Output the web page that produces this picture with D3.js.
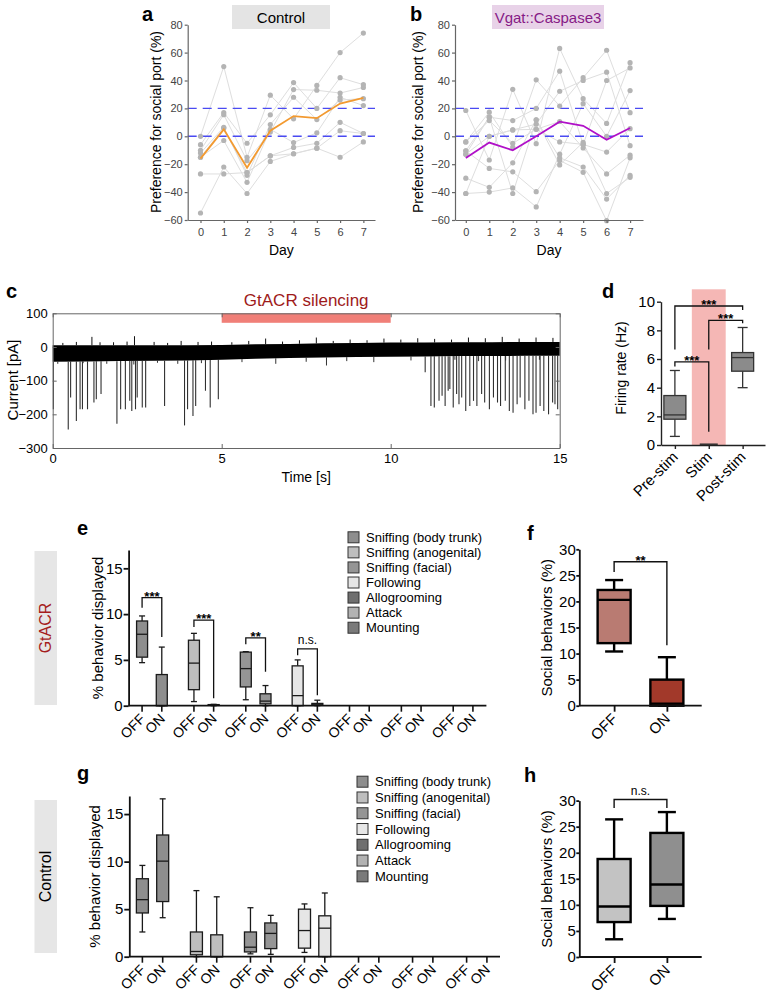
<!DOCTYPE html>
<html><head><meta charset="utf-8">
<script src="https://cdn.jsdelivr.net/npm/d3@7/dist/d3.min.js"></script>
<style>html,body{margin:0;padding:0;background:#fff;}</style>
</head><body>
<script>
// ================= DATA =================
// panels a/b : preference for social port
const days = [0,1,2,3,4,5,6,7];
const prefTicks = [-60,-40,-20,0,20,40,60,80];
const prefThresholds = [0,20];
const controlAnimals = [
  [0, 50, -15, 29.5, 12.5, 36.5, 60, 74],
  [-6, 17, -5, 15.4, 38.5, 20, 42, 37],
  [-10, 15.5, -17.5, 3, 33.5, 33, 31, 35],
  [-12, 6.5, -28, 8.4, 28, 12, 26, 27],
  [-15, -3, -33, 5, -4.5, 2.5, 28, 22],
  [-27, -27, -26, -14, -8, -5, 10, 2],
  [-55, -22, -41, -18, -12.5, -8.5, -15, -4],
  [-15, 5.8, -26, -14, -12.5, -8.5, 4, 2]
];
const controlMean = [-16, 5, -22.5, 4, 14.5, 13, 23.5, 27.5];
const caspAnimals = [
  [18.5, -17, 33.7, -5.3, 63, 27, 9.2, 52.8],
  [-4, 17.3, -7.7, 40.5, 21.7, 42, 61.7, 16.9],
  [-10.4, 13.7, 11.3, 20, 46.7, -5.8, 40, 49],
  [-12.8, 0, 4.6, 8.7, 32.3, 40, 46, -6.7],
  [-30, -36.6, -19, 11.8, -15.4, -22, -45, -28],
  [-41, -40, -37, -50.6, -12.8, 23.4, 0, 32.8],
  [-4, 11.3, -5, 5, 10.6, -8.4, -27, -13.5],
  [-10.4, -23, -25.5, -39.7, -17.3, -25.8, -60.5, -15.4],
  [-12.8, 13.7, -41, 11.8, -20.5, -4.3, -41, -29.4],
  [-41, 0, 4.6, 5, -4, -5.8, -11.3, 5.5]
];
const caspMean = [-15.5, -4.5, -10, 0, 10.5, 7.5, -2.5, 6];

// panel c : current trace
const traceXTicks = [0,5,10,15];
const traceYTicks = [100,0,-100,-200,-300];
const silencingWindow = [5,10];
const envT   = [0,1,2,3,4,5,6,7,8,9,10,11,12,13,14,15];
const envTop = [5,5,5,5,5,6,8,9,11,12,13,13,14,14,15,15];
const envBot = [-44,-43,-42,-41,-40,-38,-35,-33,-31,-30,-29,-28,-27,-27,-26,-26];
const spikeT = [0.02,0.46,0.53,0.70,0.81,0.88,1.03,1.22,1.29,1.43,1.90,2.01,2.15,2.28,2.34,2.45,2.50,2.65,2.75,3.31,3.90,3.99,4.15,4.23,4.52,4.66,4.90,
  11.02,11.19,11.29,11.43,11.52,11.61,11.70,11.75,11.85,11.95,12.02,12.10,12.22,12.34,12.45,12.55,12.69,12.78,12.92,13.04,13.16,13.25,13.39,13.51,13.62,13.74,13.83,13.97,14.09,14.21,14.30,14.42,14.53,14.67,14.79,14.86,14.94];
const spikeAmp = [-185,-245,-150,-220,-185,-185,-185,-165,-155,-140,-228,-185,-185,-160,-190,-185,-150,-180,-180,-175,-233,-185,-205,-175,-130,-180,-155,
  -75,-175,-180,-160,-145,-175,-130,-125,-180,-140,-170,-150,-190,-175,-160,-175,-140,-165,-185,-150,-165,-175,-160,-190,-195,-170,-150,-185,-160,-200,-195,-175,-190,-200,-165,-170,-185];
const noiseUpT   = [0.3,0.7,1.16,1.4,1.8,2.2,2.42,3.0,3.4,3.8,4.3,4.7,5.3,5.8,6.3,6.8,7.3,7.8,8.3,8.8,9.3,9.8,10.3,10.8,11.3,11.8,12.3,12.8,13.3,13.8,14.3,14.8];
const noiseUpAmp = [12,15,30,14,14,16,32,15,12,18,15,16,14,18,25,16,20,28,18,22,20,25,22,26,24,22,28,26,30,25,28,27];
const noiseDnT   = [0.15,0.9,1.6,2.4,3.1,3.7,4.4,5.6,6.6,7.5,8.1,8.7,9.5,10.6,11.9,12.6,13.4,14.4];
const noiseDnAmp = [-50,-48,-50,-52,-47,-50,-48,-45,-50,-44,-55,-42,-45,-40,-38,-42,-40,-38];

// panel d : firing rate
const fireCats = ["Pre-stim","Stim","Post-stim"];
const fireTicks = [0,2,4,6,8,10];
const fireLow  = [0.6, 0, 4.0];
const fireQ1   = [1.8, 0, 5.15];
const fireMed  = [2.1, 0, 6.1];
const fireQ3   = [3.45, 0, 6.45];
const fireHigh = [5.2, 0, 8.2];
const fireSigLabel = ["***","***","***"];
const fireSigFrom  = [0,1,0];
const fireSigTo    = [2,2,1];
const fireSigFromY = [6.67,6.67,5.47];
const fireSigTop   = [9.7,8.7,5.8];
const fireSigToY   = [9.42,8.49,0.93];

// panels e/g : behaviours
const behaviors = ["Sniffing (body trunk)","Sniffing (anogenital)","Sniffing (facial)","Following","Allogrooming","Attack","Mounting"];
const behaviorColors = ["#8e8e8e","#bebebe","#959595","#e6e6e6","#6f6f6f","#b2b2b2","#7a7a7a"];
const conds = ["OFF","ON"];
const behTicks = [0,5,10,15];
// order: OFF,ON for each behaviour
const eLow  = [4.7,0,   0.45,0,    0.65,0,    0,0,     0,0,0,0,0,0];
const eQ1   = [5.3,0,   1.75,0.08, 2.05,0.2,  0,0.05,  0,0,0,0,0,0];
const eMed  = [7.8,0,   4.65,0.1,  4.05,0.5,  1.1,0.1, 0,0,0,0,0,0];
const eQ3   = [9.25,3.4,7.15,0.12, 5.85,1.3,  4.35,0.25,0,0,0,0,0,0];
const eHigh = [9.8,6.4, 7.9,0.15,  5.9,2.2,   5.0,0.6, 0,0,0,0,0,0];
const eSigBeh   = [0,1,2,3];
const eSigLabel = ["***","***","**","n.s."];
const eSigOffY  = [10.7,8.6,6.7,5.5];
const eSigTop   = [11.8,9.35,7.4,6.2];
const eSigOnY   = [7.5,0.8,3.7,1.15];

const gLow  = [2.6,4.1,   0,0,     0.3,0.25,  0.45,0,   0,0,0,0,0,0];
const gQ1   = [4.6,5.8,   0.2,0,   0.5,0.85,  0.9,0,    0,0,0,0,0,0];
const gMed  = [6.0,10.05, 0.55,0,  1.0,2.45,  2.75,3.0, 0,0,0,0,0,0];
const gQ3   = [8.2,12.8,  2.6,2.3, 2.6,3.55,  5.0,4.3,  0,0,0,0,0,0];
const gHigh = [9.6,16.6,  6.95,6.3,5.15,4.35, 5.55,6.7, 0,0,0,0,0,0];

// panels f/h : social behaviours
const socTicks = [0,5,10,15,20,25,30];
const fLow  = [10.4, 0];
const fQ1   = [12.0, 0];
const fMed  = [20.3, 0.4];
const fQ3   = [22.2, 5.0];
const fHigh = [24.1, 9.3];
const fColors = ["#b97b72","#a2392a"];
const fSig = ["**", 25.66, 27.6, 11.6];
const hLow  = [3.4, 7.3];
const hQ1   = [6.7, 9.8];
const hMed  = [9.7, 13.9];
const hQ3   = [18.8, 23.8];
const hHigh = [26.4, 27.8];
const hColors = ["#c3c3c3","#8f8f8f"];
const hSig = ["n.s.", 28.6, 30.2, 28.6];

// ================= DRAWING =================
const FONT = '"Liberation Sans", Arial, Helvetica, sans-serif';
const svg = d3.select("body").append("svg").attr("width",770).attr("height",1002)
  .attr("font-family",FONT).style("display","block");
svg.append("rect").attr("width",770).attr("height",1002).attr("fill","#fff");

function styleAxis(a, color, width, size, tcolor){
  a.attr("font-family",FONT).attr("font-size",size);
  a.select(".domain").attr("stroke",color).attr("stroke-width",width);
  a.selectAll(".tick line").attr("stroke",color).attr("stroke-width",width);
  a.selectAll(".tick text").attr("fill",tcolor);
}
function letter(t,x,y){ svg.append("text").attr("x",x).attr("y",y).attr("font-size",20).attr("font-weight","bold").text(t); }
function vlabel(g,text,x,y,size,color){
  g.append("text").attr("transform",`translate(${x},${y}) rotate(-90)`).attr("text-anchor","middle")
   .attr("font-size",size).attr("fill",color||"#000").text(text);
}
function rotLabel(g,text,x,y,size){
  g.append("text").attr("transform",`translate(${x},${y}) rotate(-45)`).attr("text-anchor","end")
   .attr("font-size",size).text(text);
}
function drawBox(g,cx,w,capW,y,lo,q1,md,q3,hi,fill,stroke,sw){
  if (hi<=0 && q3<=0) return;
  const L=(x1,y1,x2,y2)=>g.append("line").attr("x1",x1).attr("y1",y1).attr("x2",x2).attr("y2",y2).attr("stroke",stroke).attr("stroke-width",sw);
  L(cx,y(hi),cx,y(q3)); L(cx,y(q1),cx,y(lo));
  L(cx-capW/2,y(hi),cx+capW/2,y(hi)); L(cx-capW/2,y(lo),cx+capW/2,y(lo));
  g.append("rect").attr("x",cx-w/2).attr("y",y(q3)).attr("width",w).attr("height",Math.max(0.01,y(q1)-y(q3)))
   .attr("fill",fill).attr("stroke",stroke).attr("stroke-width",sw);
  L(cx-w/2,y(md),cx+w/2,y(md));
}
function bracket(g,x1,x2,y1,yt,y2,label,sw){
  g.append("path").attr("d",`M${x1},${y1}V${yt}H${x2}V${y2}`).attr("fill","none").attr("stroke","#111").attr("stroke-width",sw||1.3);
  const star = label.indexOf("*")>=0;
  g.append("text").attr("x",(x1+x2)/2).attr("y",star? yt+3 : yt-5).attr("text-anchor","middle")
   .attr("font-size",star?13:12).attr("font-weight",star?"bold":"normal").text(label);
}

// ---------- a / b ----------
function prefPanel(o){
  const g = svg.append("g");
  const y = d3.scaleLinear().domain([-60,80]).range([220,24.7]);
  const x = d3.scaleLinear().domain(o.xDomain).range(o.xRange);
  g.append("rect").attr("x",o.box[0]).attr("y",5).attr("width",o.box[1]-o.box[0]).attr("height",24).attr("fill",o.boxFill);
  g.append("text").attr("x",(o.box[0]+o.box[1])/2).attr("y",22.5).attr("text-anchor","middle").attr("font-size",15).attr("fill",o.titleColor).text(o.title);
  const line = d3.line().x((d,i)=>x(days[i])).y(d=>y(d));
  o.animals.forEach(a=>g.append("path").attr("d",line(a)).attr("fill","none").attr("stroke","#dedede").attr("stroke-width",1));
  prefThresholds.forEach(v=>g.append("line").attr("x1",o.xRange[0]).attr("x2",o.xRange[1]).attr("y1",y(v)).attr("y2",y(v))
     .attr("stroke","#4a4af2").attr("stroke-width",1.4).attr("stroke-dasharray","9,6"));
  o.animals.forEach(a=>a.forEach((v,i)=>g.append("circle").attr("cx",x(days[i])).attr("cy",y(v)).attr("r",2.6).attr("fill","#b4b4b4")));
  g.append("path").attr("d",line(o.mean)).attr("fill","none").attr("stroke",o.meanColor).attr("stroke-width",1.8);
  const ya = g.append("g").attr("transform",`translate(${o.xRange[0]},0)`)
    .call(d3.axisLeft(y).tickValues(prefTicks).tickSize(3).tickSizeOuter(0).tickPadding(2));
  styleAxis(ya,"#666",1.2,11,"#444");
  const xa = g.append("g").attr("transform",`translate(0,220)`)
    .call(d3.axisBottom(x).tickValues(days).tickSize(3).tickSizeOuter(0).tickPadding(5));
  styleAxis(xa,"#666",1.2,11,"#444");
  vlabel(g,"Preference for social port (%)",o.ylabX,122,14);
  g.append("text").attr("x",(o.xRange[0]+o.xRange[1])/2).attr("y",255).attr("text-anchor","middle").attr("font-size",14).text("Day");
}
prefPanel({xDomain:[-0.55,7.5],xRange:[187.7,375],box:[232,330],boxFill:"#e4e4e4",title:"Control",titleColor:"#000",
  animals:controlAnimals,mean:controlMean,meanColor:"#f39a30",ylabX:161});
prefPanel({xDomain:[-0.46,7.55],xRange:[455,643],box:[492,604],boxFill:"#e8d2e8",title:"Vgat::Caspase3",titleColor:"#861a86",
  animals:caspAnimals,mean:caspMean,meanColor:"#b010c8",ylabX:423});
letter("a",142,21); letter("b",410,21);

// ---------- c ----------
{
  const g = svg.append("g");
  const x = d3.scaleLinear().domain([0,15]).range([52.7,559.7]);
  const y = d3.scaleLinear().domain([-300,100]).range([448,313.3]);
  const botAt = d3.scaleLinear().domain(envT).range(envBot);
  const topAt = d3.scaleLinear().domain(envT).range(envTop);
  g.append("rect").attr("x",x(silencingWindow[0])).attr("y",y(100)).attr("width",x(silencingWindow[1])-x(silencingWindow[0]))
    .attr("height",9.5).attr("fill","#f07f78");
  noiseDnT.forEach((t,i)=>g.append("line").attr("x1",x(t)).attr("x2",x(t)).attr("y1",y(botAt(t))).attr("y2",y(noiseDnAmp[i])).attr("stroke","#333").attr("stroke-width",1));
  spikeT.forEach((t,i)=>g.append("line").attr("x1",x(t)).attr("x2",x(t)).attr("y1",y(botAt(t))).attr("y2",y(spikeAmp[i])).attr("stroke","#303030").attr("stroke-width",1.1));
  noiseUpT.forEach((t,i)=>g.append("line").attr("x1",x(t)).attr("x2",x(t)).attr("y1",y(topAt(t))).attr("y2",y(noiseUpAmp[i])).attr("stroke","#111").attr("stroke-width",1));
  const area = d3.area().x(d=>x(d)).y0((d,i)=>y(envBot[i])).y1((d,i)=>y(envTop[i]));
  g.append("path").datum(envT).attr("d",area).attr("fill","#000");
  const al = g.append("g").attr("transform",`translate(${x(0)},0)`).call(d3.axisLeft(y).tickValues(traceYTicks).tickSize(-4).tickSizeOuter(0).tickPadding(5));
  styleAxis(al,"#666",1,13,"#000");
  const ar = g.append("g").attr("transform",`translate(${x(15)},0)`).call(d3.axisRight(y).tickValues(traceYTicks).tickSize(-4).tickSizeOuter(0).tickFormat(""));
  styleAxis(ar,"#666",1,13,"#000");
  const ab = g.append("g").attr("transform",`translate(0,${y(-300)})`).call(d3.axisBottom(x).tickValues(traceXTicks).tickSize(-4).tickSizeOuter(0).tickPadding(6));
  styleAxis(ab,"#666",1,13,"#000");
  const at = g.append("g").attr("transform",`translate(0,${y(100)})`).call(d3.axisTop(x).tickValues(traceXTicks).tickSize(-4).tickSizeOuter(0).tickFormat(""));
  styleAxis(at,"#666",1,13,"#000");
  g.append("text").attr("x",(x(5)+x(10))/2).attr("y",306).attr("text-anchor","middle").attr("font-size",17).attr("fill","#9e1a1a").text("GtACR silencing");
  g.append("text").attr("x",x(7.5)).attr("y",482).attr("text-anchor","middle").attr("font-size",14).text("Time [s]");
  vlabel(g,"Current [pA]",17.5,380,15);
}
letter("c",6,298);

// ---------- d ----------
{
  const g = svg.append("g");
  const x = d3.scaleLinear().domain([-0.41,2.66]).range([661,765]);
  const y = d3.scaleLinear().domain([0,10]).range([445,301.7]);
  g.append("rect").attr("x",x(0.5)).attr("y",289.3).attr("width",x(1.5)-x(0.5)).attr("height",y(0)-289.3).attr("fill","#f5b7b5");
  fireCats.forEach((c,i)=>{
    if (fireHigh[i]===0 && fireQ3[i]===0){
      g.append("line").attr("x1",x(i)-9).attr("x2",x(i)+9).attr("y1",y(0)-0.8).attr("y2",y(0)-0.8).attr("stroke","#333").attr("stroke-width",1.5);
    } else drawBox(g,x(i),22,10,y,fireLow[i],fireQ1[i],fireMed[i],fireQ3[i],fireHigh[i],"#8b8b8b","#333",1.3);
  });
  fireSigLabel.forEach((l,k)=>bracket(g,x(fireSigFrom[k]),x(fireSigTo[k]),y(fireSigFromY[k]),y(fireSigTop[k]),y(fireSigToY[k]),l,1.3));
  const ya = g.append("g").attr("transform",`translate(661,0)`).call(d3.axisLeft(y).tickValues(fireTicks).tickSize(4).tickSizeOuter(0).tickPadding(2));
  styleAxis(ya,"#222",1.4,15,"#000");
  const xa = g.append("g").attr("transform",`translate(0,${y(0)})`).call(d3.axisBottom(x).tickValues([0,1,2]).tickSize(4).tickSizeOuter(0).tickFormat(""));
  styleAxis(xa,"#222",1.4,14,"#000");
  fireCats.forEach((c,i)=>rotLabel(g,c,x(i)+4,y(0)+13,15));
  vlabel(g,"Firing rate (Hz)",626,368,14);
}
letter("d",602,298);

// ---------- e / g ----------
function behPanel(o){
  const g = svg.append("g");
  const y = d3.scaleLinear().domain([0,o.top]).range([o.y0,o.yTop]);
  const xb = d3.scalePoint().domain(behaviors).range([o.ax,o.axEnd]).padding(o.pad);
  const xc = d3.scalePoint().domain(conds).range([-o.half,o.half]);
  const pos = (bi,ci)=>xb(behaviors[bi])+xc(conds[ci]);
  g.append("rect").attr("x",34.5).attr("y",o.side[0]).attr("width",22.5).attr("height",o.side[1]-o.side[0]).attr("fill","#e6e6e6");
  vlabel(g,o.sideText,51,(o.side[0]+o.side[1])/2,16,o.sideColor);
  behaviors.forEach((b,bi)=>conds.forEach((c,ci)=>{
    const k=bi*2+ci;
    drawBox(g,pos(bi,ci),o.bw,6,y,o.lo[k],o.q1[k],o.md[k],o.q3[k],o.hi[k],behaviorColors[bi],"#1a1a1a",1.3);
  }));
  if (o.sig) o.sig.beh.forEach((bi,k)=>bracket(g,pos(bi,0),pos(bi,1),y(o.sig.offY[k]),y(o.sig.top[k]),y(o.sig.onY[k]),o.sig.label[k],1.3));
  const ya = g.append("g").attr("transform",`translate(${o.ax},0)`).call(d3.axisLeft(y).tickValues(behTicks).tickSize(5).tickSizeOuter(0).tickPadding(1));
  styleAxis(ya,"#111",1.8,15,"#000");
  const xa = g.append("g").attr("transform",`translate(0,${o.y0})`);
  xa.append("line").attr("x1",o.ax).attr("x2",o.axEnd).attr("stroke","#111").attr("stroke-width",1.8);
  behaviors.forEach((b,bi)=>conds.forEach((c,ci)=>{
    xa.append("line").attr("x1",pos(bi,ci)).attr("x2",pos(bi,ci)).attr("y1",0).attr("y2",6).attr("stroke","#111").attr("stroke-width",1.6);
    rotLabel(g,c,pos(bi,ci)+4,o.y0+14,14);
  }));
  vlabel(g,"% behavior displayed",o.ylabX,(o.y0+o.yTop)/2,15);
  behaviors.forEach((b,bi)=>{
    const yy = o.legY + bi*o.legStep;
    g.append("rect").attr("x",o.legX).attr("y",yy-5.5).attr("width",11).attr("height",11).attr("fill",behaviorColors[bi]).attr("stroke","#333").attr("stroke-width",1);
    g.append("text").attr("x",o.legX+18).attr("y",yy+4.5).attr("font-size",13).text(b);
  });
}
behPanel({top:17,y0:705.7,yTop:550,ax:128.6,axEnd:486.4,pad:0.45,half:9.85,bw:11,
  lo:eLow,q1:eQ1,md:eMed,q3:eQ3,hi:eHigh,side:[551,705],sideText:"GtACR",sideColor:"#a51d1d",
  sig:{beh:eSigBeh,label:eSigLabel,offY:eSigOffY,top:eSigTop,onY:eSigOnY},ylabX:103,legX:348,legY:537.3,legStep:15.07});
behPanel({top:16.9,y0:956.7,yTop:796,ax:129.3,axEnd:500,pad:0.43,half:10.15,bw:12,
  lo:gLow,q1:gQ1,md:gMed,q3:gQ3,hi:gHigh,side:[800,953],sideText:"Control",sideColor:"#000",
  sig:null,ylabX:100,legX:357,legY:781.7,legStep:15.77});
letter("e",77,535); letter("g",77,780);

// ---------- f / h ----------
function socPanel(o){
  const g = svg.append("g");
  const y = d3.scaleLinear().domain([0,30]).range([o.y0,o.y0-156.4]);
  const x = d3.scalePoint().domain(conds).range([579.3,701.7]).padding(0.66);
  conds.forEach((c,i)=>drawBox(g,x(c),33,18,y,o.lo[i],o.q1[i],o.md[i],o.q3[i],o.hi[i],o.colors[i],"#000",2.4));
  bracket(g,x("OFF"),x("ON"),y(o.sig[1]),y(o.sig[2]),y(o.sig[3]),o.sig[0],1.4);
  const ya = g.append("g").attr("transform",`translate(579.3,0)`).call(d3.axisLeft(y).tickValues(socTicks).tickSize(3).tickSizeOuter(0).tickPadding(0.5));
  styleAxis(ya,"#111",1.8,15,"#000");
  const xa = g.append("g").attr("transform",`translate(0,${o.y0})`).call(d3.axisBottom(x).tickSize(6).tickSizeOuter(0).tickFormat(""));
  styleAxis(xa,"#111",1.8,14,"#000");
  xa.select(".domain").attr("d",`M579.3,0H701.7`);
  conds.forEach(c=>rotLabel(g,c,x(c)+4,o.y0+14,15));
  vlabel(g,"Social behaviors (%)",552,o.y0-78,15);
}
socPanel({y0:705.7,lo:fLow,q1:fQ1,md:fMed,q3:fQ3,hi:fHigh,colors:fColors,sig:fSig});
socPanel({y0:957,lo:hLow,q1:hQ1,md:hMed,q3:hQ3,hi:hHigh,colors:hColors,sig:hSig});
letter("f",527,540); letter("h",524,782);
</script>
</body></html>
